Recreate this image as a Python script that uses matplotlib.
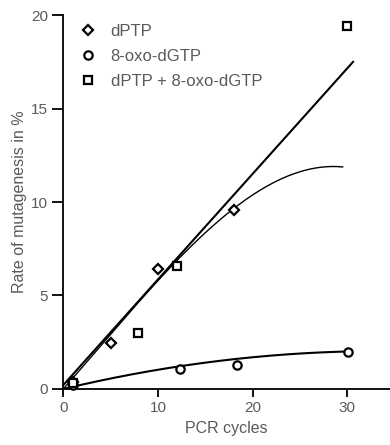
import matplotlib
matplotlib.use("Agg")
import matplotlib.pyplot as plt
import numpy as np

plt.rcParams['font.family'] = ['Liberation Sans', 'DejaVu Sans']

# Data
dptp_x = [1, 5, 10, 18]
dptp_y = [0.35, 2.45, 6.4, 9.6]
oxo_x = [1, 12.3, 18.3, 30.1]
oxo_y = [0.2, 1.07, 1.28, 2.0]
both_x = [1, 7.9, 12.0, 30.0]
both_y = [0.3, 3.0, 6.6, 19.4]

# Fitted curves
line_x = [0.0, 30.6]
line_y = [0.2, 17.5]
dptp_curve_x = [0, 5, 10, 18, 21.5, 25, 29.5]
dptp_curve_y = [0, 2.9, 5.8, 9.65, 10.9, 11.55, 11.9]
oxo_curve_x = [0, 4, 13.3, 23.9, 30.2]
oxo_curve_y = [0, 0.45, 1.28, 1.87, 2.0]

x_ticks = [0, 10, 20, 30]
y_ticks = [0, 5, 10, 15, 20]

fig = plt.figure(figsize=(3.9, 4.45), dpi=100)
ax = fig.add_axes([0.162, 0.126, 0.838, 0.840])

gray = '#5a5a5a'
# straight line
ax.plot(line_x, line_y, color='black', lw=1.5, zorder=2)
# dPTP saturating curve
c = np.polyfit(dptp_curve_x, dptp_curve_y, 3)
xx = np.linspace(0, 29.5, 200)
ax.plot(xx, np.polyval(c, xx), color='black', lw=1.0, zorder=2)
# 8-oxo curve
c2 = np.polyfit(oxo_curve_x, oxo_curve_y, 2)
xx2 = np.linspace(0, 30.2, 200)
ax.plot(xx2, np.polyval(c2, xx2), color='black', lw=1.5, zorder=2)

mk = dict(mfc='white', mec='black', mew=1.6, ls='none', clip_on=False, zorder=3)
ax.plot(dptp_x, dptp_y, marker='D', ms=5.5, label='dPTP', **mk)
ax.plot(oxo_x, oxo_y, marker='o', ms=6, label='8-oxo-dGTP', **mk)
ax.plot(both_x, both_y, marker='s', ms=6, label='dPTP + 8-oxo-dGTP', **mk)

ax.set_xlim(0, 34.5)
ax.set_ylim(0, 20)
ax.set_xticks(x_ticks)
ax.set_yticks(y_ticks)
for s in ['top', 'right']:
    ax.spines[s].set_visible(False)
for s in ['left', 'bottom']:
    ax.spines[s].set_linewidth(1.3)
ax.tick_params(axis='both', direction='out', width=1.3, labelsize=11,
               labelcolor=gray)
ax.tick_params(axis='y', length=8, pad=3)
ax.tick_params(axis='x', length=6, pad=3)

ax.set_xlabel('PCR cycles', fontsize=11.5, color=gray, labelpad=4)
ax.set_ylabel('Rate of mutagenesis in %', fontsize=11.5, color=gray, labelpad=3)

leg = ax.legend(loc='upper left', bbox_to_anchor=(0.02, 1.003), frameon=False,
                fontsize=12, handletextpad=0.85, labelspacing=0.6,
                handlelength=1.0, borderaxespad=0.2)
for t in leg.get_texts():
    t.set_color(gray)

fig.savefig('out.png', dpi=100)
